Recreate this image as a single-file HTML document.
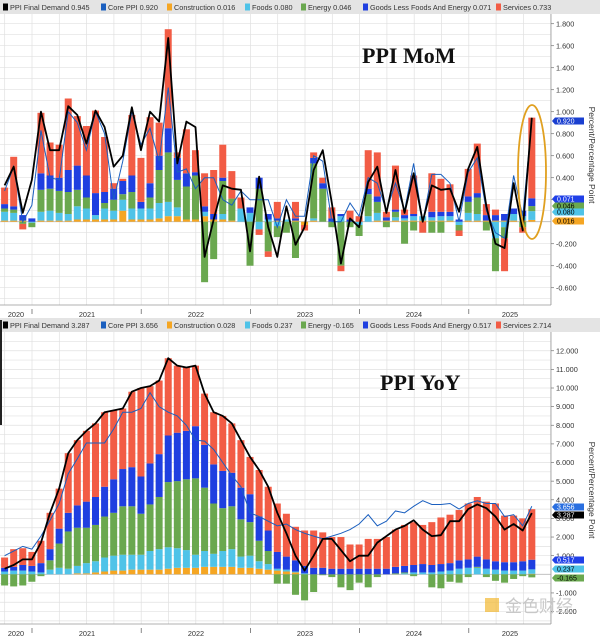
<!DOCTYPE html>
<html><head><meta charset="utf-8">
<style>
html,body{margin:0;padding:0;background:#fff;}
svg{display:block;font-family:"Liberation Sans",sans-serif;}
</style></head>
<body>
<svg id="c" width="600" height="636" viewBox="0 0 600 636"></svg>
<script>
// ---------- MoM data (Sep 2020 .. Jul 2025) ----------
const momHeadline=[0.33,0.50,0.08,0.38,1.0,0.65,0.65,1.05,0.97,0.71,1.01,0.86,0.5,0.6,1.04,0.65,1.0,0.91,1.67,0.53,0.91,0.86,-0.32,0.02,0.33,0.30,0.29,-0.27,0.41,-0.05,-0.32,0.14,-0.21,-0.05,0.47,0.65,0.17,-0.38,0.03,-0.05,0.36,0.5,0.08,0.47,0.08,0.44,0,0.33,0.29,0.30,0.09,0.48,0.68,0.14,-0.2,-0.24,0.35,-0.08,0.945];
const momCore=[0.28,0.5,0.0,0.15,0.83,0.4,0.38,1.0,0.9,0.65,1.0,0.8,0.2,0.55,1.0,0.7,0.85,0.55,1.22,0.45,0.48,0.3,0.4,0.4,0.2,0.15,0.28,0.2,0.2,0.2,-0.05,0.2,0.05,0.05,0.6,0.55,0,0,0.17,0.05,0.4,0.35,0.1,0.35,0.1,0.53,0.0,0.43,0.43,0.35,0.0,0.45,0.58,0.1,-0.1,-0.15,0.42,0.05,0.92];
const momConstruction=[0.01,0.01,0.01,0.0,0.01,0.01,0.01,0.01,0.02,0.02,0.02,0.02,0.02,0.1,0.02,0.02,0.02,0.03,0.05,0.05,0.02,0.02,0.05,0.02,0.02,0.01,0.0,0.0,0.0,0.0,0.01,0.0,0.01,-0.03,0.01,0.0,0.0,0.0,0.0,0.0,0.0,0.01,0.01,0.01,0.01,0.01,0.01,0.01,0.01,0.01,0.0,0.01,0.01,0.01,0.01,0.01,0.01,0.01,0.016];
const momFoods=[0.08,0.07,0.0,-0.01,0.08,0.09,0.07,0.06,0.12,0.1,0.04,0.1,0.08,0.1,0.1,0.1,0.1,0.14,0.13,0.08,0.0,0.0,0.04,0.0,0.05,0.0,0.12,0.08,-0.07,0.02,-0.04,0.02,0.0,0.0,0.02,0.0,0.0,0.05,0.0,-0.03,0.05,0.07,0.0,0.03,0.02,0.04,0.04,0.03,0.04,0.04,-0.03,0.07,0.06,0.0,-0.15,-0.05,0.06,0.04,0.08];
const momEnergy=[0.03,0.03,-0.02,-0.04,0.2,0.2,0.2,0.2,0.15,0.1,0.0,0.05,0.1,0.05,0.15,0.0,0.1,0.3,0.45,0.25,0.3,0.4,-0.55,-0.34,0.3,0.2,0.0,-0.4,0.3,-0.27,-0.1,-0.1,-0.33,0.0,0.5,0.3,-0.05,-0.4,-0.05,-0.1,0.2,0.1,-0.05,0.05,-0.2,-0.08,0.0,-0.1,-0.1,0.0,-0.05,0.1,0.15,-0.08,-0.3,-0.1,0.0,-0.05,0.046];
const momGoods=[0.04,0.03,0.05,0.03,0.15,0.12,0.12,0.2,0.22,0.2,0.2,0.1,0.1,0.12,0.15,0.06,0.13,0.13,0.22,0.2,0.12,0.03,0.05,0.05,0.03,0.0,0.0,0.05,0.1,0.05,0.02,0.0,0.02,0.0,0.05,0.05,0.03,0.02,0.02,0.0,0.05,0.05,0.03,0.02,0.03,0.02,0.0,0.05,0.04,0.04,0.02,0.05,0.04,0.05,0.05,0.06,0.05,0.05,0.071];
const momServices=[0.15,0.45,-0.05,0.0,0.55,0.3,0.3,0.65,0.45,0.45,0.75,0.5,0.05,0.02,0.55,0.4,0.6,0.3,0.9,0.05,0.4,0.2,0.3,0.4,0.3,0.25,0.1,0.0,-0.05,-0.05,0.15,0.0,0.15,-0.05,0.05,0.05,0.1,-0.05,0.08,0.05,0.35,0.4,0.05,0.4,0.05,0.35,-0.1,0.35,0.3,0.25,-0.05,0.25,0.45,0.1,0.05,-0.3,0.0,-0.05,0.733];
const momTicks=["1.800","1.600","1.400","1.200","1.000","0.800","0.600","0.400","0.200","-0.200","-0.400","-0.600"];
// ---------- YoY data ----------
const yoyHeadline=[0.3,0.5,0.8,0.8,1.7,3.3,4.6,6.5,7.2,7.7,8.1,8.7,8.8,8.9,9.8,10.0,10.1,10.4,11.6,11.2,11.1,11.2,9.7,8.7,8.5,8.1,7.2,6.3,5.6,4.7,3.3,2.2,1.0,0.2,1.0,1.9,1.9,1.3,0.7,1.0,1.0,1.7,2.05,2.4,2.6,2.9,2.4,2.05,2.1,2.85,2.85,3.5,3.75,3.55,3.1,2.4,2.7,2.35,3.287];
const yoyCore=[1.0,1.25,1.5,1.35,2.05,2.9,3.8,5.4,6.2,7.05,7.05,7.05,7.8,8.7,8.7,8.9,9.75,9.0,8.7,8.5,8.0,7.2,7.15,6.7,6.0,5.3,4.7,3.3,3.1,2.85,2.6,2.7,2.4,2.2,2.05,1.9,2.05,2.2,2.4,2.7,3.2,2.6,2.85,3.4,3.3,3.65,3.95,3.75,3.75,3.8,3.5,3.8,3.95,3.8,3.8,3.1,3.2,2.6,3.656];
const yoyConstruction=[0,0,0,0,0,0,0,0,0.05,0.05,0.1,0.15,0.2,0.2,0.25,0.25,0.25,0.25,0.3,0.35,0.35,0.35,0.4,0.4,0.4,0.4,0.35,0.35,0.3,0.25,0.2,0.15,0.1,0,0,0,0,0,0,0,0,0,0,0,0,0,0,0,0,0,0,0,0,0,0,0,0,0,0.028];
const yoyFoods=[0.15,0.2,0.2,0.15,0.1,0.25,0.35,0.3,0.4,0.55,0.6,0.75,0.8,0.85,0.8,0.8,1.0,1.1,1.15,1.05,0.95,0.7,0.85,0.7,0.85,0.95,0.6,0.65,0.4,0.3,0.1,0.1,0.05,0.05,0,0,0,0,0,0,0,0,0,0,0.05,0.1,0.1,0.1,0.15,0.2,0.3,0.35,0.35,0.3,0.25,0.2,0.2,0.2,0.237];
const yoyEnergy=[-0.6,-0.65,-0.6,-0.4,-0.1,0.5,1.3,2.0,2.05,1.9,1.95,2.2,2.3,2.6,2.6,2.2,2.5,2.8,3.5,3.6,3.8,4.1,3.4,2.7,2.3,2.3,2.0,1.8,1.1,0.7,-0.5,-0.5,-1.1,-1.4,-0.95,-0.05,-0.15,-0.7,-0.85,-0.45,-0.7,-0.15,0.0,0.05,0.05,-0.1,0.0,-0.7,-0.75,-0.4,-0.45,-0.15,0.05,-0.15,-0.35,-0.45,-0.25,-0.1,-0.165];
const yoyGoods=[0.2,0.2,0.3,0.3,0.5,0.6,0.8,1.0,1.2,1.4,1.5,1.6,1.8,2.0,2.1,2.0,2.2,2.3,2.5,2.6,2.6,2.8,2.3,2.1,2.0,1.8,1.7,1.5,1.3,1.1,0.9,0.7,0.6,0.4,0.35,0.35,0.3,0.3,0.3,0.3,0.3,0.3,0.3,0.35,0.35,0.4,0.45,0.4,0.4,0.4,0.45,0.45,0.55,0.5,0.45,0.45,0.45,0.5,0.517];
const yoyServices=[0.55,0.95,0.9,0.75,1.2,1.95,2.15,3.2,3.5,3.8,3.95,4.0,3.7,3.25,4.05,4.75,4.15,3.95,4.15,3.6,3.4,3.25,2.75,2.8,2.95,2.65,2.55,2.0,2.5,2.35,2.6,2.3,1.8,1.9,2.0,1.9,1.7,1.7,1.3,1.3,1.6,1.6,1.7,2.0,2.2,2.3,2.1,2.3,2.5,2.6,2.7,3.0,3.2,3.1,3.1,2.5,2.5,2.3,2.714];
const yoyTicks=["12.000","11.000","10.000","9.000","8.000","7.000","6.000","5.000","4.000","3.000","2.000","1.000","-1.000","-2.000"];
const yearLabels=["2020","2021","2022","2023","2024","2025"];

const COL={constr:"#f5a623",foods:"#4fc3e8",energy:"#6aa84f",goods:"#1f3fe0",services:"#f25c45",core:"#1a5fbf",head:"#000"};
const NS="http://www.w3.org/2000/svg";
const svg=document.getElementById('c');
function el(tag,attrs,parent){const e=document.createElementNS(NS,tag);for(const k in attrs)e.setAttribute(k,attrs[k]);(parent||svg).appendChild(e);return e;}
function xOf(i){return 4.6+i*9.09;}
const momY=v=>221.7-v*110;
const yoyY=v=>574.3-v*18.63;

function panel(cfg){
  const g=el('g',{});
  
  
  el('rect',{x:0,y:cfg.legY,width:600,height:14,fill:'#e4e4e4'},g);
  let lx=3;
  cfg.legend.forEach(L=>{
    const lg=el('g',{},g);
    
    
    el('rect',{x:lx,y:cfg.legY+3.5,width:5,height:7,fill:L[1]},lg);
    const t=el('text',{x:lx+7,y:cfg.legY+10,'font-size':'7.3',fill:'#333'},lg);
    t.textContent=L[0];
    lx+=L[2];
  });
  for(let v=cfg.gMin;v<=cfg.gMax+1e-9;v+=cfg.gStep){
    const y=cfg.y(v);
    if(y<cfg.top||y>cfg.bot)continue;
    el('line',{x1:0,x2:551,y1:y,y2:y,stroke:'#e0e0e0','stroke-width':0.7},g);
  }
  for(let k=-1;k<22;k++){
    const x=32+k*27.3;
    if(x<0||x>551)continue;
    el('line',{x1:x,x2:x,y1:cfg.top,y2:cfg.bot,stroke:'#e0e0e0','stroke-width':0.7},g);
  }
  el('line',{x1:0,x2:551,y1:cfg.y(0),y2:cfg.y(0),stroke:'#bbb','stroke-width':0.8},g);
  const comps=[['construction',cfg.c,COL.constr],['foods',cfg.f,COL.foods],['energy',cfg.e,COL.energy],['goods',cfg.gd,COL.goods],['services',cfg.s,COL.services]];
  for(let i=0;i<cfg.c.length;i++){
    let pos=0,neg=0;
    comps.forEach(cp=>{
      const v=cp[1][i];
      let a,b;
      if(v>=0){a=pos;b=pos+v;pos=b;}else{a=neg;b=neg+v;neg=b;}
      const y1=cfg.y(Math.max(a,b)),y2=cfg.y(Math.min(a,b));
      const r=el('rect',{x:xOf(i)-3.5,y:y1,width:7,height:Math.max(0,y2-y1),fill:cp[2]},g);
      
      
    });
  }
  const core=el('polyline',{points:cfg.core.map((v,i)=>xOf(i)+','+cfg.y(v)).join(' '),fill:'none',stroke:COL.core,'stroke-width':1},g);
  
  
  const hd=el('polyline',{points:cfg.head.map((v,i)=>xOf(i)+','+cfg.y(v)).join(' '),fill:'none',stroke:'#000','stroke-width':1.8,'stroke-linejoin':'round'},g);
  
  
  el('line',{x1:551,x2:551,y1:cfg.top,y2:cfg.bot,stroke:'#999','stroke-width':0.8},g);
  el('line',{x1:0,x2:551,y1:cfg.bot,y2:cfg.bot,stroke:'#999','stroke-width':0.8},g);
  cfg.ticks.forEach(t=>{
    const y=cfg.y(parseFloat(t));
    el('line',{x1:551,x2:554,y1:y,y2:y,stroke:'#777','stroke-width':0.7},g);
    const tx=el('text',{x:556,y:y+2.6,'font-size':'7.3',fill:'#333'},g);
    
    
    tx.textContent=t;
  });
  const at=el('text',{x:0,y:0,'font-size':'8.5',fill:'#333',transform:'translate(589,'+cfg.axisTitleY+') rotate(90)','text-anchor':'middle'},g);
  
  
  at.textContent='Percent/Percentage Point';
  yearLabels.forEach((yl,k)=>{
    const cx=[16,87,196,305,414,510][k];
    const t=el('text',{x:cx,y:cfg.bot+12,'font-size':'7.3',fill:'#333','text-anchor':'middle'},g);
    
    
    t.textContent=yl;
  });
  for(let k=0;k<5;k++){const x=32+k*109.2;el('line',{x1:x,x2:x,y1:cfg.bot+4,y2:cfg.bot+9,stroke:'#555','stroke-width':0.7},g);}
  cfg.tags.forEach(T=>{
    const tg=el('g',{},g);
    
    
    el('path',{d:`M552 ${T[1]} l3 -3.5 h29 v7 h-29 z`,fill:T[2]},tg);
    const t=el('text',{x:557,y:T[1]+2.6,'font-size':'7',fill:T[3]},tg);
    t.textContent=T[0];
  });
  const ti=el('text',{x:cfg.titleX,y:cfg.titleY,'font-size':'22','font-weight':'bold','font-family':'Liberation Serif, serif',fill:'#111'},g);
  
  
  ti.textContent=cfg.title;
  return g;
}

panel({name:'mom-panel',legY:0,top:14,bot:305,y:momY,gMin:-0.8,gMax:1.9,gStep:0.1,
  legend:[['PPI Final Demand 0.945','#000',98],['Core PPI 0.920',COL.core,66],['Construction 0.016',COL.constr,78],['Foods 0.080',COL.foods,56],['Energy 0.046',COL.energy,62],['Goods Less Foods And Energy 0.071',COL.goods,133],['Services 0.733',COL.services,60]],
  c:momConstruction,f:momFoods,e:momEnergy,gd:momGoods,s:momServices,core:momCore,head:momHeadline,ticks:momTicks,axisTitleY:155,
  tags:[['0.920',121,'#1a3fd0','#fff'],['0.071',199,'#2040e8','#fff'],['0.046',206,COL.energy,'#000'],['0.080',212,COL.foods,'#000'],['0.016',221,COL.constr,'#000']],
  title:'PPI MoM',titleX:362,titleY:63});
panel({name:'yoy-panel',legY:318,top:332,bot:624,y:yoyY,gMin:-2.5,gMax:12.5,gStep:0.5,
  legend:[['PPI Final Demand 3.287','#000',98],['Core PPI 3.656',COL.core,66],['Construction 0.028',COL.constr,78],['Foods 0.237',COL.foods,56],['Energy -0.165',COL.energy,62],['Goods Less Foods And Energy 0.517',COL.goods,133],['Services 2.714',COL.services,60]],
  c:yoyConstruction,f:yoyFoods,e:yoyEnergy,gd:yoyGoods,s:yoyServices,core:yoyCore,head:yoyHeadline,ticks:yoyTicks,axisTitleY:490,
  tags:[['3.656',507,'#2a6fe0','#fff'],['3.287',515,'#000','#fff'],['0.517',560,'#2040e8','#fff'],['0.237',569,COL.foods,'#000'],['-0.165',578,COL.energy,'#000']],
  title:'PPI YoY',titleX:380,titleY:390});

const ell=el('ellipse',{cx:532,cy:172,rx:14,ry:67,fill:'none',stroke:'#e0a020','stroke-width':1.8});


el('rect',{x:0,y:320,width:2,height:105,fill:'#222'});
const wm=el('text',{x:505,y:612,'font-size':'17','font-family':'Liberation Sans, Noto Sans CJK SC, sans-serif',fill:'#c8c8c8'});


wm.textContent='金色财经';
el('rect',{x:485,y:598,width:14,height:14,fill:'#f2b830',opacity:0.7});
</script>
</body></html>
